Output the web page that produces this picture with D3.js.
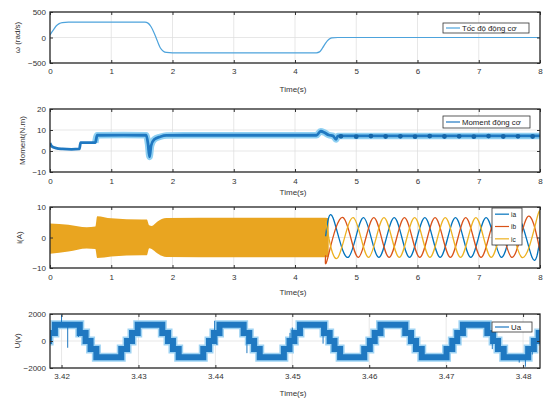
<!DOCTYPE html>
<html><head><meta charset="utf-8">
<script src="https://cdn.jsdelivr.net/npm/d3@7"></script>
<style>body{margin:0;background:#fff}svg{display:block;font-family:"Liberation Sans",Arial,sans-serif}</style>
</head><body><svg id="c" width="544" height="404"></svg>
<script>
// ---------- DATA ----------
const timeTicks = [0,1,2,3,4,5,6,7,8];
const speedTicks = [-500,0,500];
const torqueTicks = [-10,0,10,20];
const currentTicks = [-10,0,10];
const voltTicks = [-2000,0,2000];
const voltTimeTicks = [3.42,3.43,3.44,3.45,3.46,3.47,3.48];

const speedT = [0,0.05,0.1,0.15,0.2,0.3,1.55,1.6,1.65,1.7,1.75,1.8,1.85,1.9,2.0,4.35,4.4,4.45,4.5,4.55,4.6,4.7,8];
const speedV = [50,140,225,272,292,300,300,282,210,90,-60,-200,-268,-293,-300,-300,-282,-205,-110,-40,-8,0,0];

const torqueT = [0,0.03,0.1,0.2,0.35,0.48,0.5,0.74,0.77,1.2,1.57,1.6,1.625,1.65,1.7,1.8,1.9,2.2,3.0,4.35,4.42,4.48,4.55,4.62,4.67,4.7,8];
const torqueV = [3.8,2.2,1.4,1.0,0.8,1.0,4.0,4.0,7.5,7.6,7.5,3.5,-2.8,2.5,5.5,6.8,7.4,7.5,7.5,7.5,9.4,8.8,7.6,7.2,5.5,7.2,7.2];
const torqueBeads = [4.75,5.0,5.24,5.48,5.72,5.96,6.2,6.44,6.68,6.92,7.16,7.4,7.64,7.88];
const torqueBeadV = [7.0,6.8,7.1,6.9,7.0,6.8,7.1,6.9,7.0,6.8,7.1,6.9,7.0,6.9];

const bandT = [0,0.3,0.6,0.74,0.77,1.0,1.5,1.58,1.62,1.66,1.75,1.9,3.0,4.5,4.55];
const bandUp = [4.6,4.2,3.4,3.6,7.0,6.3,5.9,5.9,4.0,3.8,5.2,6.4,6.5,6.5,6.3];
const bandLo = [-5.3,-4.6,-3.6,-3.8,-6.7,-6.2,-5.8,-5.8,-3.5,-3.8,-5.2,-6.4,-6.5,-6.5,-6.3];

const iaPts = [[4.5,0.4],[4.62,6.5],[4.87,-6.5],[5.12,6.5],[5.37,-6.5],[5.62,6.5],[5.87,-6.5],[6.12,6.5],[6.37,-6.5],[6.62,6.5],[6.87,-6.5],[7.12,6.5],[7.37,-6.5],[7.62,6.5],[7.87,-6.5],[8.0,-0.3]];
const ibPts = [[4.5,-5.8],[4.537,-6.5],[4.787,6.5],[5.037,-6.5],[5.287,6.5],[5.537,-6.5],[5.787,6.5],[6.037,-6.5],[6.287,6.5],[6.537,-6.5],[6.787,6.5],[7.037,-6.5],[7.287,6.5],[7.537,-6.5],[7.787,6.5],[8.0,-4.4]];
const icPts = [[4.5,5.4],[4.703,-6.5],[4.953,6.5],[5.203,-6.5],[5.453,6.5],[5.703,-6.5],[5.953,6.5],[6.203,-6.5],[6.453,6.5],[6.703,-6.5],[6.953,6.5],[7.203,-6.5],[7.453,6.5],[7.703,-6.5],[7.953,6.5],[8.0,6.2]];
const phaseNames = ["ia","ib","ic"];

const uaZeroCross = [3.40746,3.41806,3.42884,3.43949,3.44995,3.46039,3.47112,3.48172,3.49232];
const uaStepFrac = [0,0.03,0.10,0.40,0.47,0.53,0.60,0.90,0.97];
const uaStepLevel = [0,600,1200,600,0,-600,-1200,-600,0];
const uaSpikes = [[3.4200,1950],[3.4208,-500],[3.4222,300],[3.4296,700],[3.4303,1300],[3.4399,1500],[3.4402,-300],[3.4441,-900],[3.4497,600],[3.4500,1000],[3.4540,-200],[3.4712,200],[3.4760,-600],[3.4795,-1600],[3.4803,-1900],[3.4812,-1000]];

const speedLegend = "Tốc độ động cơ";
const torqueLegend = "Moment động cơ";
const voltLegend = "Ua";
const yLabels = ["ω (rad/s)","Moment(N.m)","i(A)","U(v)"];
const xLabel = "Time(s)";

// ---------- DRAW ----------
const svg = d3.select("#c");
svg.append("rect").attr("width",544).attr("height",404).attr("fill","#fff");
const X0 = 50, X1 = 540;

function makePanel(top,bottom,xd,yd,xt,yt,fmt,ylab,ylx,tickY,timeY){
  const x = d3.scaleLinear().domain(xd).range([X0,X1]);
  const y = d3.scaleLinear().domain(yd).range([bottom,top]);
  const g = svg.append("g");
  g.append("g").selectAll("line.v").data(xt).join("line")
    .attr("x1",d=>x(d)).attr("x2",d=>x(d)).attr("y1",top).attr("y2",bottom)
    .attr("stroke","#dcdcdc").attr("stroke-width",0.7);
  g.append("g").selectAll("line.h").data(yt).join("line")
    .attr("y1",d=>y(d)).attr("y2",d=>y(d)).attr("x1",X0).attr("x2",X1)
    .attr("stroke","#dcdcdc").attr("stroke-width",0.7);
  const plot = g.append("g");
  const ax = g.append("g").attr("transform",`translate(0,${bottom})`)
    .call(d3.axisBottom(x).tickValues(xt).tickFormat(fmt).tickSizeInner(-3).tickSizeOuter(0).tickPadding(tickY));
  const axT = g.append("g").attr("transform",`translate(0,${top})`)
    .call(d3.axisTop(x).tickValues(xt).tickFormat("").tickSizeInner(-3).tickSizeOuter(0));
  const ay = g.append("g").attr("transform",`translate(${X0},0)`)
    .call(d3.axisLeft(y).tickValues(yt).tickFormat(d3.format("d")).tickSizeInner(-3).tickSizeOuter(0).tickPadding(4));
  const ayR = g.append("g").attr("transform",`translate(${X1},0)`)
    .call(d3.axisRight(y).tickValues(yt).tickFormat("").tickSizeInner(-3).tickSizeOuter(0));
  [ax,axT,ay,ayR].forEach(a=>{a.select(".domain").remove();a.selectAll("line").attr("stroke","#333");
    a.selectAll("text").attr("font-size",8).attr("fill","#333");});
  g.append("rect").attr("x",X0).attr("y",top).attr("width",X1-X0).attr("height",bottom-top)
    .attr("fill","none").attr("stroke","#2a2a2a").attr("stroke-width",1.3);
  g.append("text").attr("transform",`translate(${ylx},${(top+bottom)/2}) rotate(-90)`)
    .attr("text-anchor","middle").attr("font-size",8).attr("fill","#333").text(ylab);
  g.append("text").attr("x",293).attr("y",timeY).attr("text-anchor","middle")
    .attr("font-size",8).attr("fill","#333").text(xLabel);
  const clipId = "clip"+top;
  svg.append("clipPath").attr("id",clipId).append("rect").attr("x",X0).attr("y",top).attr("width",X1-X0).attr("height",bottom-top);
  plot.attr("clip-path",`url(#${clipId})`);
  return {x,y,g,plot};
}
function legend(g,x0,y0,w,h,items,fs){
  const lg = g.append("g");
  lg.append("rect").attr("x",x0).attr("y",y0).attr("width",w).attr("height",h)
    .attr("fill","#fff").attr("stroke","#333").attr("stroke-width",0.8);
  const rowH = h/items.length;
  items.forEach((it,i)=>{
    const cy = y0+rowH*(i+0.5);
    lg.append("line").attr("x1",x0+3).attr("x2",x0+17).attr("y1",cy).attr("y2",cy)
      .attr("stroke",it.color).attr("stroke-width",1.2);
    lg.append("text").attr("x",x0+19).attr("y",cy+2.7).attr("font-size",fs).attr("fill","#222").text(it.name);
  });
}

// Panel 1: speed
const p1 = makePanel(12,63,[0,8],[-500,500],timeTicks,speedTicks,d3.format("d"),yLabels[0],20,5,92);
p1.plot.append("path").datum(speedT.map((t,i)=>[t,speedV[i]]))
  .attr("d",d3.line().x(d=>p1.x(d[0])).y(d=>p1.y(d[1])).curve(d3.curveMonotoneX))
  .attr("fill","none").attr("stroke","#4da3dc").attr("stroke-width",1.2);
legend(p1.g,443,23,86,10,[{name:speedLegend,color:"#4da3dc"}],7.8);

// Panel 2: torque
const p2 = makePanel(109,172,[0,8],[-10,20],timeTicks,torqueTicks,d3.format("d"),yLabels[1],25,6,195);
const tq = torqueT.map((t,i)=>[t,torqueV[i]]);
const tqLine = d3.line().x(d=>p2.x(d[0])).y(d=>p2.y(d[1])).curve(d3.curveMonotoneX);
p2.plot.append("path").datum(tq.filter(d=>d[0]>=0.74)).attr("d",tqLine).attr("fill","none")
  .attr("stroke","#8fd0f2").attr("stroke-width",6.5).attr("stroke-linejoin","round");
p2.plot.append("path").datum(tq).attr("d",tqLine).attr("fill","none")
  .attr("stroke","#1f78c1").attr("stroke-width",2.8).attr("stroke-linejoin","round");
p2.plot.selectAll("circle").data(torqueBeads).join("circle")
  .attr("cx",d=>p2.x(d)).attr("cy",(d,i)=>p2.y(torqueBeadV[i])).attr("r",2.4).attr("fill","#1565a8");
legend(p2.g,443,116,87,12,[{name:torqueLegend,color:"#1f78c1"}],7.8);

// Panel 3: currents
const p3 = makePanel(207,268,[0,8],[-10,10],timeTicks,currentTicks,d3.format("d"),yLabels[2],22,6,295);
p3.plot.append("path").datum(bandT.map((t,i)=>[t,bandUp[i],bandLo[i]]))
  .attr("d",d3.area().x(d=>p3.x(d[0])).y0(d=>p3.y(d[2])).y1(d=>p3.y(d[1])).curve(d3.curveMonotoneX))
  .attr("fill","#e9a520");
const phaseColors = ["#0072BD","#D95319","#EDB120"];
[iaPts,ibPts,icPts].forEach((pts,k)=>{
  p3.plot.append("path").datum(pts)
    .attr("d",d3.line().x(d=>p3.x(d[0])).y(d=>p3.y(d[1])).curve(d3.curveNatural))
    .attr("fill","none").attr("stroke",phaseColors[k]).attr("stroke-width",1.3);
});
legend(p3.g,492,208,30,37,phaseNames.map((n,k)=>({name:n,color:phaseColors[k]})),6.5);

// Panel 4: voltage
const p4 = makePanel(314,368,[3.4185,3.4822],[-2000,2000],voltTimeTicks,voltTicks,d3.format(".2f"),yLabels[3],20,5,396);
const uaPts = [];
for(let k=0;k<uaZeroCross.length-1;k++){
  const t0 = uaZeroCross[k], T = uaZeroCross[k+1]-t0;
  uaStepFrac.forEach((f,j)=>uaPts.push([t0+f*T,uaStepLevel[j]]));
}
const uaAt = t => { let v=0; uaPts.forEach(p=>{ if(p[0]<=t) v=p[1]; }); return v; };
const uaLine = d3.line().x(d=>p4.x(d[0])).y(d=>p4.y(d[1])).curve(d3.curveStepAfter);
p4.plot.append("path").datum(uaPts).attr("d",uaLine).attr("fill","none")
  .attr("stroke","#9fd3f3").attr("stroke-width",9);
p4.plot.append("path").datum(uaPts).attr("d",uaLine).attr("fill","none")
  .attr("stroke","#1f78c1").attr("stroke-width",6);
p4.plot.selectAll("line.sp").data(uaSpikes).join("line")
  .attr("x1",d=>p4.x(d[0])).attr("x2",d=>p4.x(d[0]))
  .attr("y1",d=>p4.y(uaAt(d[0]))).attr("y2",d=>p4.y(d[1]))
  .attr("stroke","#1f78c1").attr("stroke-width",1);
legend(p4.g,492,322,40,10,[{name:voltLegend,color:"#1f78c1"}],7.8);
</script></body></html>
